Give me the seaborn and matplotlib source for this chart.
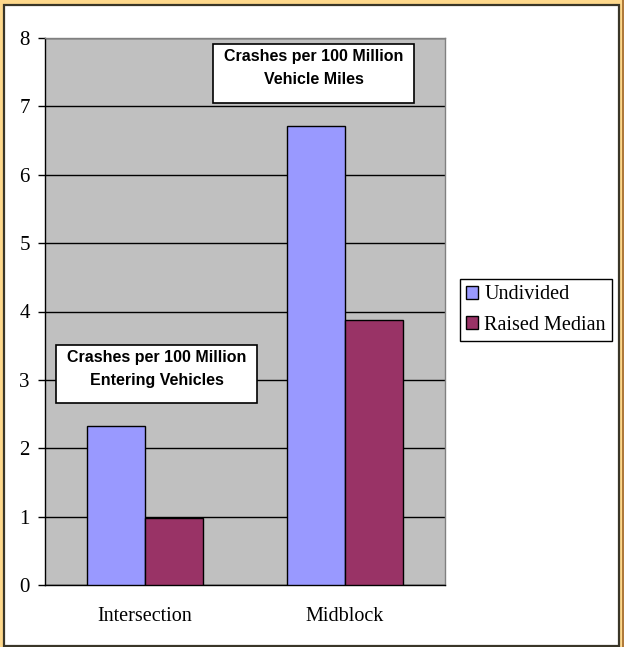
import matplotlib
matplotlib.use("Agg")
import matplotlib.pyplot as plt
import matplotlib.patches as mpatches
import seaborn as sns
import pandas as pd

categories = ["Intersection", "Midblock"]
series = ["Undivided", "Raised Median"]
undivided = [2.32, 6.71]
raised_median = [0.98, 3.88]
colors = ["#9999FF", "#993366"]
yticks = [0, 1, 2, 3, 4, 5, 6, 7, 8]

df = pd.DataFrame({
    "category": categories * 2,
    "series": [series[0]] * 2 + [series[1]] * 2,
    "value": undivided + raised_median,
})

sns.set_theme(style="white")
plt.rcParams["font.family"] = ["Liberation Serif", "DejaVu Serif"]
plt.rcParams["text.color"] = "black"
plt.rcParams["xtick.color"] = "black"
plt.rcParams["ytick.color"] = "black"

W, H = 624, 647
fig = plt.figure(figsize=(W / 100, H / 100), dpi=100)
fig.patch.set_facecolor("#FFD98C")

# white inner frame with dark edge
frame = mpatches.Rectangle((4 / W, 1 - 646 / H), (619 - 4) / W, (646 - 5) / H,
                           transform=fig.transFigure, facecolor="white",
                           edgecolor="#3A3628", linewidth=1.6, zorder=-10)
fig.patches.append(frame)
stripe = mpatches.Rectangle((621.5 / W, 0), 2.5 / W, 1, transform=fig.transFigure,
                            facecolor="#B07A3A", edgecolor="none", zorder=-10)
fig.patches.append(stripe)

ax = fig.add_axes([45 / W, 1 - 585 / H, 400 / W, (585 - 38) / H])
ax.set_facecolor("#C0C0C0")

sns.barplot(data=df, x="category", y="value", hue="series", order=categories,
            hue_order=series, palette=colors, saturation=1, width=0.58, gap=0,
            edgecolor="black", linewidth=1, ax=ax, legend=False, zorder=3)

ax.set_xlim(-0.5, 1.5)
ax.set_ylim(0, 8)
ax.set_yticks(yticks)
ax.set_yticklabels([str(t) for t in yticks], fontsize=15)
ax.yaxis.grid(True, color="black", linewidth=1)
ax.set_axisbelow(True)
ax.set_xlabel("")
ax.set_ylabel("")

ax.set_xticks([0, 1])
ax.set_xticklabels(categories, fontsize=14.5)
ax.set_xticks([-0.5, 0.5, 1.5], minor=True)
ax.tick_params(axis="x", which="major", length=0, pad=16, colors="black")
ax.tick_params(axis="x", which="minor", length=5, width=1, direction="out", color="black")
ax.tick_params(axis="y", which="major", length=5, width=1, direction="out", pad=6,
               left=True, color="black", labelcolor="black")

for s in ["left", "bottom"]:
    ax.spines[s].set_color("black")
    ax.spines[s].set_linewidth(1)
for s in ["top", "right"]:
    ax.spines[s].set_color("#808080")
    ax.spines[s].set_linewidth(1)

# annotation boxes (axes pixel -> axes fraction)
def box(x0, y0, x1, y1, lines):
    fx0 = (x0 - 45) / 400
    fx1 = (x1 - 45) / 400
    fy0 = (585 - y1) / 547
    fy1 = (585 - y0) / 547
    r = mpatches.Rectangle((fx0, fy0), fx1 - fx0, fy1 - fy0, transform=ax.transAxes,
                           facecolor="white", edgecolor="black", linewidth=1.2, zorder=5)
    ax.add_patch(r)
    ty = (585 - (y0 + 24)) / 547
    ax.text((fx0 + fx1) / 2, ty, "\n".join(lines),
            transform=ax.transAxes, ha="center", va="center", fontsize=11.5,
            fontweight="bold", family=["Liberation Sans", "DejaVu Sans"],
            linespacing=1.6, zorder=6, color="black")

box(213, 44, 414, 103, ["Crashes per 100 Million", "Vehicle Miles"])
box(56, 345, 257, 403, ["Crashes per 100 Million", "Entering Vehicles"])

handles = [mpatches.Patch(facecolor=c, edgecolor="black", linewidth=1) for c in colors]
leg = fig.legend(handles, series, loc="center left",
                 bbox_to_anchor=(460 / W, 1 - 310 / H), fontsize=14.5,
                 frameon=True, fancybox=False, edgecolor="black", framealpha=1,
                 handlelength=0.6, handleheight=0.6, handletextpad=0.3,
                 borderpad=0.3, labelspacing=0.55, borderaxespad=0,
                 labelcolor="black")
leg.get_frame().set_linewidth(1)

fig.savefig("out.png", dpi=100, facecolor=fig.get_facecolor())
